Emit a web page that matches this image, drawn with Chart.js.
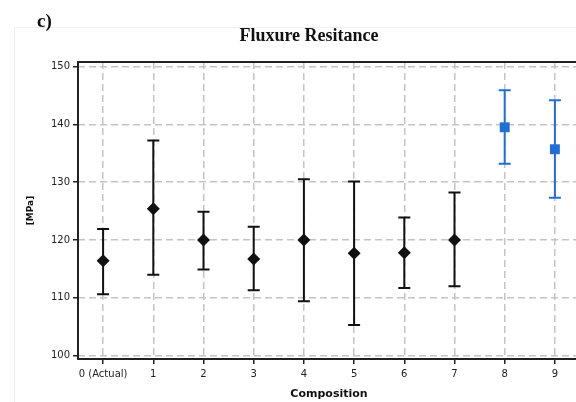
<!DOCTYPE html>
<html>
<head>
<meta charset="utf-8">
<script src="https://cdn.jsdelivr.net/npm/chart.js@4"></script>
<style>
  html, body { margin: 0; padding: 0; background: #fff; overflow: hidden; }
  #wrap { width: 618px; height: 402px; }
</style>
</head>
<body>
<div id="wrap"><canvas id="chart" width="618" height="402"></canvas></div>
<script>
// values
const compositions = ['0 (Actual)', '1', '2', '3', '4', '5', '6', '7', '8', '9'];
const meanBlack = [116.4, 125.4, 120.0, 116.7, 120.0, 117.7, 117.8, 120.0, null, null];
const meanBlue = [null, null, null, null, null, null, null, null, 139.5, 135.7];
const errLow = [110.6, 114.0, 114.9, 111.3, 109.4, 105.3, 111.7, 112.0, 133.2, 127.3];
const errHigh = [121.9, 137.2, 124.9, 122.3, 130.5, 130.1, 123.9, 128.2, 145.9, 144.2];
const yTicks = [100, 110, 120, 130, 140, 150];

const BLACK = '#111';
const BLUE = '#1f6fd6';

// frame, panel label, title and error bars
const extras = {
  id: 'extras',
  beforeDraw(chart) {
    const { ctx } = chart;
    ctx.save();
    ctx.strokeStyle = '#efefef';
    ctx.lineWidth = 1;
    ctx.beginPath();
    ctx.moveTo(14.5, 402); ctx.lineTo(14.5, 27.5); ctx.lineTo(618, 27.5);
    ctx.stroke();
    ctx.restore();
  },
  beforeDatasetsDraw(chart) {
    const { ctx, chartArea: a, scales: { x, y } } = chart;
    ctx.save();
    ctx.strokeStyle = '#222';
    ctx.lineWidth = 2;
    ctx.strokeRect(a.left, a.top, a.right - a.left, a.bottom - a.top);

    compositions.forEach((c, i) => {
      const px = x.getPixelForValue(i);
      const hi = y.getPixelForValue(errHigh[i]);
      const lo = y.getPixelForValue(errLow[i]);
      ctx.strokeStyle = meanBlue[i] != null ? BLUE : BLACK;
      ctx.beginPath();
      ctx.moveTo(px, hi); ctx.lineTo(px, lo);
      ctx.moveTo(px - 6, hi); ctx.lineTo(px + 6, hi);
      ctx.moveTo(px - 6, lo); ctx.lineTo(px + 6, lo);
      ctx.stroke();
    });
    ctx.restore();
  },
  afterDraw(chart) {
    const { ctx } = chart;
    ctx.save();
    ctx.fillStyle = '#111';
    ctx.textBaseline = 'alphabetic';
    ctx.font = 'bold 19px "Liberation Serif"';
    ctx.fillText('c)', 37, 27);
    ctx.textAlign = 'center';
    ctx.font = 'bold 18px "Liberation Serif"';
    ctx.fillText('Fluxure Resitance', 309, 41);
    ctx.restore();
  }
};

new Chart(document.getElementById('chart'), {
  type: 'line',
  data: {
    labels: compositions,
    datasets: [{
      data: meanBlack,
      showLine: false,
      pointStyle: 'rectRot',
      pointRadius: 6.5,
      pointBackgroundColor: BLACK,
      pointBorderColor: BLACK,
      pointBorderWidth: 0,
    }, {
      data: meanBlue,
      showLine: false,
      pointStyle: 'rect',
      pointRadius: 7,
      pointBackgroundColor: BLUE,
      pointBorderColor: BLUE,
      pointBorderWidth: 0,
    }],
  },
  options: {
    responsive: false,
    animation: false,
    layout: { padding: { left: 0, right: 38, top: 62, bottom: 0 } },
    plugins: {
      legend: { display: false },
      tooltip: { enabled: false },
      title: { display: false },
    },
    scales: {
      x: {
        offset: true,
        grid: {
          offset: false,
          color: '#c4c4c4',
          lineWidth: 1.5,
          tickColor: '#222',
          tickLength: 5,
          tickWidth: 1.5,
        },
        border: { display: false, dash: [7, 4] },
        ticks: {
          color: '#222',
          padding: 4,
          maxRotation: 0,
          autoSkip: false,
          font: { family: '"DejaVu Sans"', size: 10 },
        },
        title: {
          display: true,
          text: 'Composition',
          color: '#111',
          font: { family: '"DejaVu Sans"', size: 11, weight: 'bold' },
          padding: { top: 2, bottom: 1 },
        },
        afterFit(scale) { scale.height = 43; },
      },
      y: {
        min: 99.4,
        max: 150.8,
        grid: {
          color: '#c4c4c4',
          lineWidth: 1.5,
          tickColor: '#222',
          tickLength: 5,
          tickWidth: 1.5,
        },
        border: { display: false, dash: [7, 4] },
        afterBuildTicks(scale) { scale.ticks = yTicks.map(v => ({ value: v })); },
        ticks: {
          color: '#222',
          padding: 3,
          font: { family: '"DejaVu Sans"', size: 10 },
        },
        title: {
          display: true,
          text: '[MPa]',
          color: '#111',
          font: { family: '"DejaVu Sans"', size: 9, weight: 'bold' },
          padding: { top: 25, bottom: 0 },
        },
        afterFit(scale) { scale.width = 78; },
      },
    },
  },
  plugins: [extras],
});
</script>
</body>
</html>
